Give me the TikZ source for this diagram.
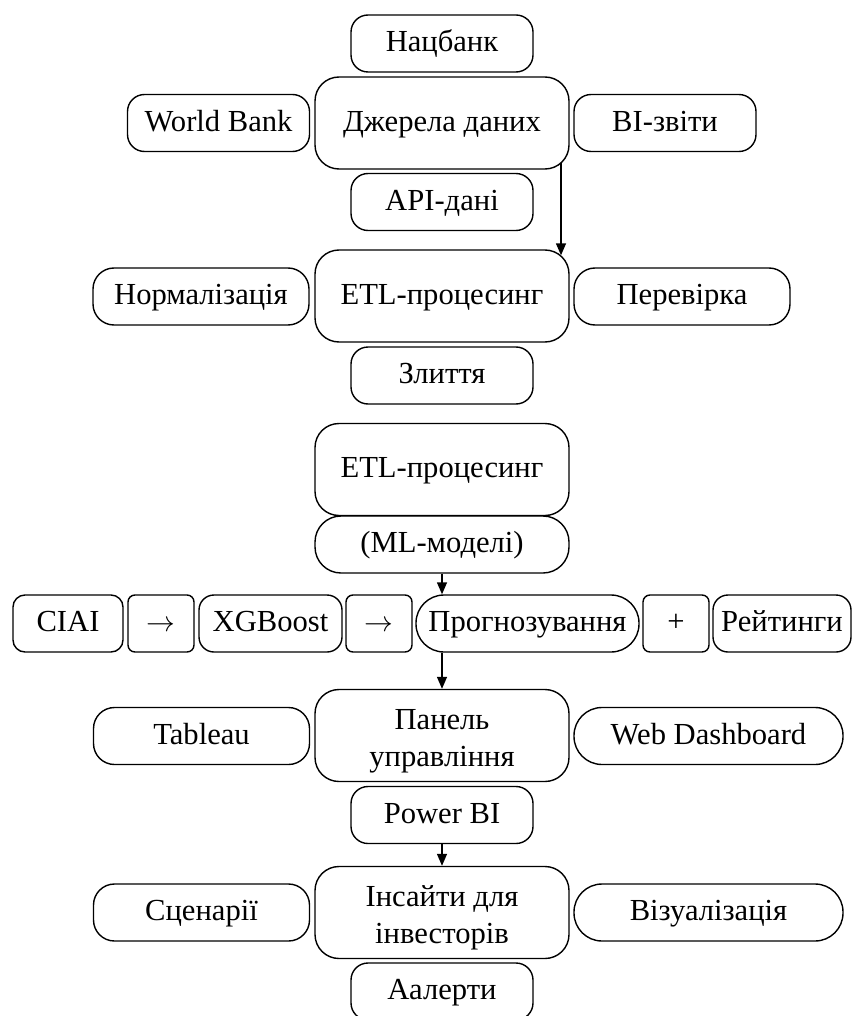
\documentclass[tikz,border=0pt]{standalone}
\usepackage{fontspec}
\setmainfont{Liberation Serif}
\usetikzlibrary{arrows.meta,calc}
\tikzset{
  bx/.style={draw, line width=0.7pt, rounded corners=#1, inner sep=0pt,
    font=\fontsize{15.3}{18.5}\selectfont, text height=0.82em, text depth=0pt},
  bx/.default=8.5pt,
  hub/.style={bx=12pt, minimum width=127pt, minimum height=46pt},
  hub2/.style={hub, align=center, text height=30.5pt, text depth=0pt},
  sat/.style={bx, minimum width=91pt, minimum height=28.5pt},
  side/.style={bx=10.5pt, minimum width=108pt, minimum height=28.5pt},
  wide/.style={bx=14pt, minimum width=134.5pt, minimum height=28.5pt},
  chip/.style={bx=#1, minimum height=28.5pt},
  flow/.style={-{Triangle[length=6pt,width=5pt]}, line width=0.7pt}
}
\begin{document}
\begin{tikzpicture}[x=0.5pt, y=-0.5pt]
  \useasboundingbox (0,0) rectangle (852,1016);
  % data sources
  \node[hub] (src) at (442,123) {Джерела даних};
  \node[sat] (nbu) at (442,43.5) {Нацбанк};
  \node[sat] (wb) at (218.5,123) {World Bank};
  \node[sat] (bi) at (665,123) {BI-звіти};
  \node[sat] (api) at (442,202) {API-дані};
  % ETL
  \node[hub] (etl) at (442,296) {ETL-процесинг};
  \node[side] (norm) at (201,296.5) {Нормалізація};
  \node[side] (chk) at (682,296.5) {Перевірка};
  \node[sat] (merge) at (442,375.5) {Злиття};
  \draw[flow] ($(src.south)+(119,-7)$) -- ($(etl.north)+(119,6)$);
  % models
  \node[hub] (etlm) at (442,469.5) {ETL-процесинг};
  \node[chip=13pt, minimum width=127pt] (ml) at (442,544.5) {(ML-моделі)};
  \node[chip=6pt, minimum width=55pt] (ciai) at (68,623.5) {CIAI};
  \node[chip=3.5pt, minimum width=33pt] (ar1) at (161,623.5) {$\rightarrow$};
  \node[chip=7.5pt, minimum width=71.5pt] (xgb) at (270.5,623.5) {XGBoost};
  \node[chip=3.5pt, minimum width=33pt] (ar2) at (379,623.5) {$\rightarrow$};
  \node[chip=14pt, minimum width=111.5pt] (prog) at (527.5,623.5) {Прогнозування};
  \node[chip=3.5pt, minimum width=33pt] (plus) at (676,623.5) {+};
  \node[chip=7.5pt, minimum width=69pt] (rate) at (782,623.5) {Рейтинги};
  \draw[flow] (ml.south) -- (ml.south |- prog.north);
  % dashboard
  \node[hub2] (dash) at (442,735.5) {Панель\\управління};
  \node[side] (tab) at (201.5,736) {Tableau};
  \node[wide] (web) at (708.5,736) {Web Dashboard};
  \node[sat] (pbi) at (442,815) {Power BI};
  \draw[flow] (dash.north |- prog.south) -- (dash.north);
  % insights
  \node[hub2] (ins) at (442,912.5) {Інсайти для\\інвесторів};
  \node[side] (scen) at (201.5,912.5) {Сценарії};
  \node[wide] (vis) at (708.5,912.5) {Візуалізація};
  \node[sat] (alert) at (442,991.5) {Аалерти};
  \draw[flow] (pbi) -- (ins);
\end{tikzpicture}
\end{document}
